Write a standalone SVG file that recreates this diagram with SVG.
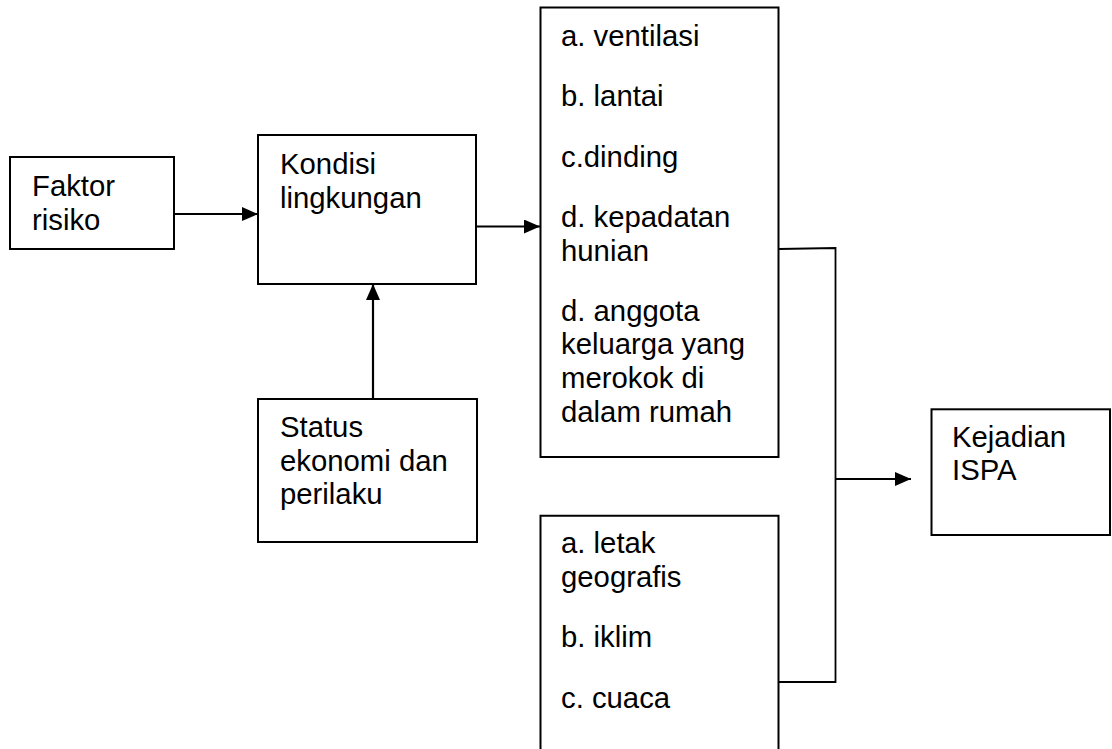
<svg xmlns="http://www.w3.org/2000/svg" width="1112" height="749" viewBox="0 0 1112 749">
<style>
.box{fill:#fff;stroke:#000;stroke-width:2}
.t{font-family:"Liberation Sans",Arial,sans-serif;font-size:29.3px;fill:#000}
.c{fill:none;stroke:#000;stroke-width:2.2}
.w{fill:none;stroke:#000;stroke-width:1.8}
</style>
<defs>
<marker id="ah" markerWidth="16" markerHeight="14" refX="16" refY="7" orient="auto" markerUnits="userSpaceOnUse">
<path d="M0,0 L16,7 L0,14 Z" fill="#000"/>
</marker>
</defs>
<rect width="1112" height="749" fill="#fff"/>
<g id="connectors">
<line class="c" x1="174" y1="214" x2="258" y2="214" marker-end="url(#ah)"/>
<line class="c" x1="373" y1="399" x2="373" y2="284" marker-end="url(#ah)"/>
<line class="c" x1="476" y1="226.5" x2="540" y2="226.5" marker-end="url(#ah)"/>
<polyline class="w" points="779,249 835.5,248 835.5,682 779,682"/>
<line class="c" x1="835.5" y1="479" x2="911" y2="479" marker-end="url(#ah)"/>
</g>
<g id="faktor">
<rect class="box" x="10" y="157" width="164" height="92"/>
<text class="t" x="32" y="196">Faktor</text>
<text class="t" x="32" y="230">risiko</text>
</g>
<g id="kondisi">
<rect class="box" x="258" y="135" width="218" height="149"/>
<text class="t" x="280" y="174">Kondisi</text>
<text class="t" x="280" y="207.5">lingkungan</text>
</g>
<g id="status">
<rect class="box" x="258" y="399" width="219" height="143"/>
<text class="t" x="280" y="437">Status</text>
<text class="t" x="280" y="470.5">ekonomi dan</text>
<text class="t" x="280" y="504">perilaku</text>
</g>
<g id="rumah">
<rect class="box" x="540.5" y="7.5" width="238" height="449.5"/>
<text class="t" x="561" y="45.7">a. ventilasi</text>
<text class="t" x="561" y="106">b. lantai</text>
<text class="t" x="561" y="166.5">c.dinding</text>
<text class="t" x="561" y="226.7">d. kepadatan</text>
<text class="t" x="561" y="260.5">hunian</text>
<text class="t" x="561" y="320.5">d. anggota</text>
<text class="t" x="561" y="354.2">keluarga yang</text>
<text class="t" x="561" y="388">merokok di</text>
<text class="t" x="561" y="421.7">dalam rumah</text>
</g>
<g id="lingkungan-alam">
<path class="box" d="M540.5,752 V515.7 H778.5 V752"/>
<text class="t" x="561" y="553.3">a. letak</text>
<text class="t" x="561" y="586.5">geografis</text>
<text class="t" x="561" y="646.8">b. iklim</text>
<text class="t" x="561" y="708">c. cuaca</text>
</g>
<g id="kejadian">
<rect class="box" x="931.5" y="409.3" width="178.5" height="125.7"/>
<text class="t" x="952" y="446.7">Kejadian</text>
<text class="t" x="952" y="480">ISPA</text>
</g>
</svg>
